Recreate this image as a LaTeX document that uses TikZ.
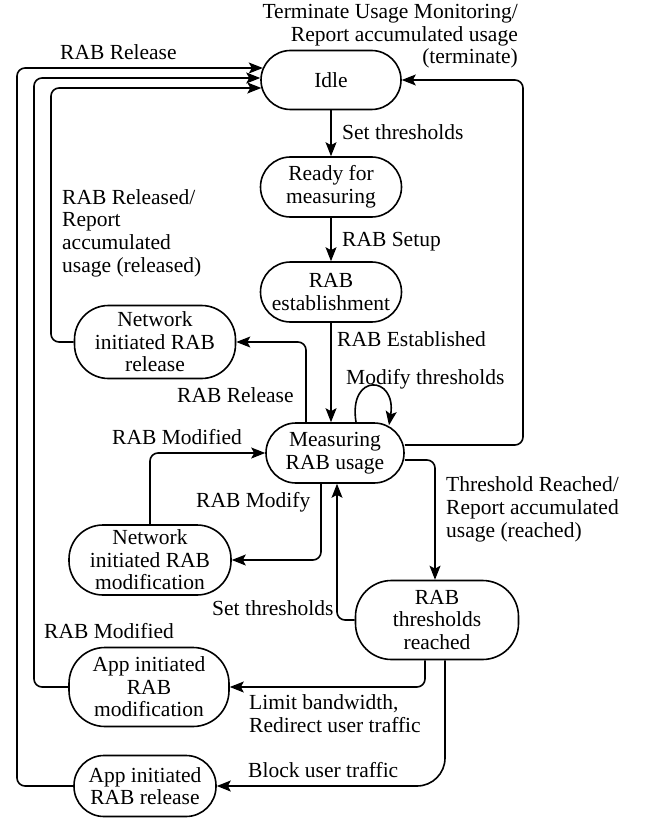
\documentclass[tikz,border=0pt]{standalone}
\usepackage{fontspec}
\setmainfont{Liberation Serif}
\usetikzlibrary{arrows.meta,calc}
\begin{document}
\begin{tikzpicture}[x=1pt,y=-1pt,
  every node/.style={font=\fontsize{21.5}{22.6}\selectfont},
  state/.style={draw,line width=1.6pt,align=center,inner sep=0pt},
  arr/.style={-{Stealth[length=14pt,width=11pt,inset=3pt]},line width=1.6pt,rounded corners=8pt},
  lab/.style={inner sep=0pt,anchor=base west}]
\useasboundingbox (0,0) rectangle (650,818);
% states
\node[state,minimum width=140pt,minimum height=59pt,rounded corners=29.5pt] (idle) at (331,80) {Idle};
\node[state,minimum width=141pt,minimum height=60pt,rounded corners=30pt] (ready) at (331,187) {Ready for\\measuring};
\node[state,minimum width=141pt,minimum height=60pt,rounded corners=30pt] (est) at (331,292) {RAB\\establishment};
\node[state,minimum width=161pt,minimum height=73pt,rounded corners=34pt] (netrel) at (155,342) {Network\\initiated RAB\\release};
\node[state,minimum width=138pt,minimum height=60pt,rounded corners=30pt] (meas) at (335,453) {Measuring\\RAB usage};
\node[state,minimum width=162pt,minimum height=70pt,rounded corners=34pt] (netmod) at (150,560) {Network\\initiated RAB\\modification};
\node[state,minimum width=163pt,minimum height=79pt,rounded corners=36pt] (thr) at (437,620) {RAB\\thresholds\\reached};
\node[state,minimum width=160pt,minimum height=79pt,rounded corners=36pt] (appmod) at (149,687) {App initiated\\RAB\\modification};
\node[state,minimum width=142pt,minimum height=61pt,rounded corners=30pt] (apprel) at (145,786) {App initiated\\RAB release};
% corner points
\coordinate (c1) at (17,68);
\coordinate (c2) at (34,78);
\coordinate (c3) at (51,88);
\coordinate (cr) at (523,80);
% connectors
\draw[arr] (idle.south) -- (ready.north);
\draw[arr] (ready.south) -- (est.north);
\draw[arr] (est.south) -- (est.south |- meas.north);
\draw[arr] ([yshift=8pt]meas.east) -| (cr) -- (idle.east);
\draw[arr] (apprel.west) -| (c1) -- ([xshift=2.6pt]idle.west |- c1);
\draw[arr] (appmod.west) -| (c2) -- (idle.west |- c2);
\draw[arr] (netrel.west) -| (c3) -- ([xshift=1.1pt]idle.west |- c3);
\draw[arr] ([xshift=21pt]meas.north) .. controls +(-8,-50) and +(8,-50) .. ([xshift=54pt,yshift=-3pt]meas.north);
\draw[arr] ([xshift=-29pt]meas.north) |- (netrel.east);
\draw[arr] (netmod.north) |- (meas.west);
\draw[arr] ([xshift=-14pt]meas.south) |- (netmod.east);
\draw[arr] ([yshift=-7pt]meas.east) -| ([xshift=-2pt]thr.north);
\draw[arr] (thr.west) -| ([xshift=2pt]meas.south);
\draw[arr] ([xshift=-12pt]thr.south) |- (appmod.east);
\draw[arr,rounded corners=28pt] ([xshift=8pt]thr.south) |- (apprel.east);
% labels (multi-line: base = last line)
\node[lab,anchor=base east,align=right] (tlab) at (518,64) {Terminate Usage Monitoring/\\Report accumulated usage\\(terminate)};
\node[lab] (l1) at (60,60) {RAB Release};
\node[lab] (l2) at (342,140) {Set thresholds};
\node[lab] (l3) at (342,247) {RAB Setup};
\node[lab,align=left] (l4) at (62,272) {RAB Released/\\Report\\accumulated\\usage (released)};
\node[lab] (l5) at (337,346) {RAB Established};
\node[lab] (l6) at (346,384) {Modify thresholds};
\node[lab] (l7) at (177,402) {RAB Release};
\node[lab] (l8) at (112,444) {RAB Modified};
\node[lab] (l9) at (196,507) {RAB Modify};
\node[lab,align=left] (l10) at (446,537) {Threshold Reached/\\Report accumulated\\usage (reached)};
\node[lab] (l11) at (212,615) {Set thresholds};
\node[lab] (l12) at (44,638) {RAB Modified};
\node[lab,align=left] (l13) at (249,732) {Limit bandwidth,\\Redirect user traffic};
\node[lab] (l14) at (248,777) {Block user traffic};
\end{tikzpicture}
\end{document}
